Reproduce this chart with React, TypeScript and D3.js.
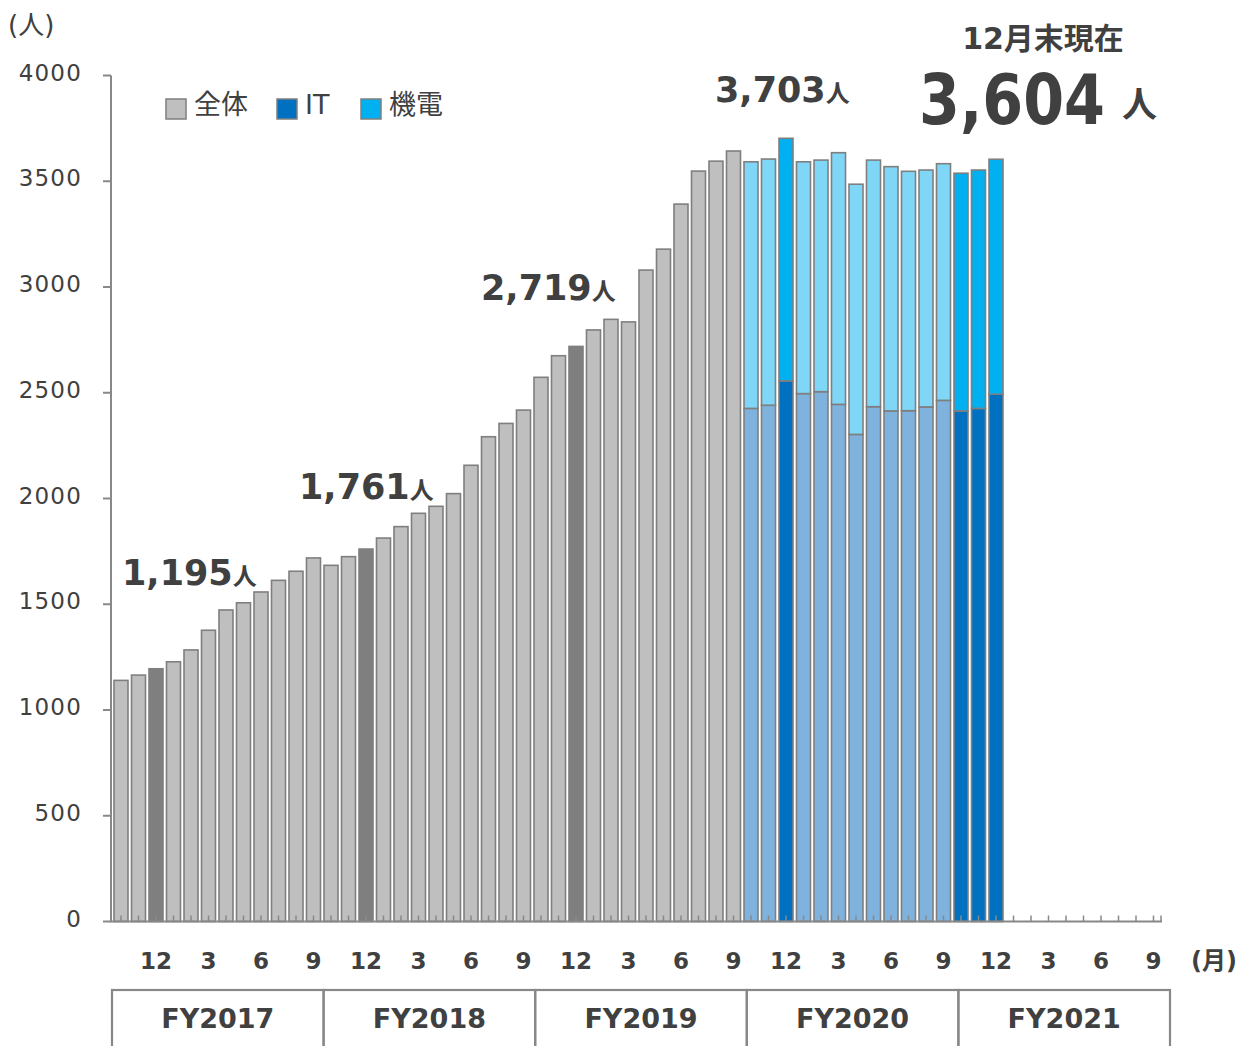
import React from "react";
import * as d3 from "d3";

// ---------- data ----------
const fiscalYears = ["FY2017", "FY2018", "FY2019", "FY2020", "FY2021"];
const monthsInFY = [10, 11, 12, 1, 2, 3, 4, 5, 6, 7, 8, 9];
const labeledMonths = [12, 3, 6, 9];
const yTicks = [0, 500, 1000, 1500, 2000, 2500, 3000, 3500, 4000];

// 全体 (total headcount) Oct 2016 .. Sep 2019
const totalValues = [
  1140, 1165, 1195, 1228, 1284, 1377, 1473, 1507, 1558, 1613, 1656, 1719,
  1684, 1725, 1761, 1813, 1867, 1930, 1963, 2023, 2157, 2292, 2355, 2418,
  2573, 2675, 2719, 2797, 2847, 2835, 3080, 3179, 3392, 3548, 3595, 3643,
];
// IT / 機電 split, Oct 2019 .. Dec 2020
const itValues = [2426, 2441, 2556, 2496, 2505, 2445, 2303, 2434, 2414, 2415, 2433, 2464, 2414, 2426, 2493];
const kidenValues = [1166, 1164, 1147, 1096, 1095, 1190, 1183, 1166, 1155, 1132, 1120, 1119, 1124, 1127, 1111];
// highlighted months (slot index)
const highlightSlots = [2, 14, 26, 38, 48, 49, 50];

const legendItems = [
  { label: "全体", color: "#BFBFBF" },
  { label: "IT", color: "#0070C0" },
  { label: "機電", color: "#00B0F0" },
];

// ---------- styles ----------
const W = 1241;
const H = 1046;
const FONT = "'DejaVu Sans', 'Noto Sans CJK JP', sans-serif";
const TEXT = "#404040";
const AXIS = "#888888";
const BAR_STROKE = "#7F7F7F";
const C = {
  gray: "#BFBFBF",
  grayDark: "#7F7F7F",
  itLight: "#7FB3DD",
  itDark: "#0070C0",
  kLight: "#80D6F7",
  kDark: "#00B0F0",
};

export default function App() {
  const slots = d3.range(fiscalYears.length * 12);
  const x = d3
    .scaleBand<number>()
    .domain(slots)
    .range([112.25, 1162.25])
    .paddingInner(0.2)
    .paddingOuter(0.1);
  const cx = (i: number) => (x(i) as number) + x.bandwidth() / 2;
  const y = d3.scaleLinear().domain([0, 4000]).range([921.5, 75.5]);
  const fy = d3.scaleBand<string>().domain(fiscalYears).range([112, 1170]);

  const grayBars = totalValues.map((v, i) => ({ i, v }));
  const stackStart = totalValues.length;
  const stackRows = itValues.map((it, k) => ({ i: stackStart + k, it, kiden: kidenValues[k] }));
  const stack = d3.stack<any>().keys(["it", "kiden"])(stackRows);

  const monthLabelSlots = slots.filter((s) => labeledMonths.includes(monthsInFY[s % 12]));

  const hl = (i: number) => highlightSlots.includes(i);

  return (
    <svg
      width={W}
      height={H}
      style={{ position: "absolute", left: 0, top: 0, background: "#fff", fontFamily: FONT }}
    >
      <rect width={W} height={H} fill="#fff" />
      {/* unit */}
      <text x={8} y={34} fontSize={26} fill={TEXT}>(人)</text>

      {/* y axis */}
      <line x1={111} x2={111} y1={y(4000)} y2={y(0)} stroke={AXIS} strokeWidth={2} />
      {yTicks.map((t) => (
        <g key={t}>
          <line x1={103} x2={111} y1={y(t)} y2={y(t)} stroke={AXIS} strokeWidth={2} />
          <text
            x={82}
            y={y(t) - 3}
            textAnchor="end"
            dominantBaseline="central"
            fontSize={23}
            letterSpacing={1.2}
            fill={TEXT}
          >
            {t}
          </text>
        </g>
      ))}

      {/* gray bars */}
      {grayBars.map((d) => (
        <rect
          key={d.i}
          x={x(d.i)}
          y={y(d.v)}
          width={x.bandwidth()}
          height={y(0) - y(d.v)}
          fill={hl(d.i) ? C.grayDark : C.gray}
          stroke={BAR_STROKE}
          strokeWidth={1.6}
        />
      ))}

      {/* stacked bars */}
      {stack.map((layer) =>
        layer.map((seg: any) => {
          const i = seg.data.i;
          const isIT = layer.key === "it";
          const fill = isIT ? (hl(i) ? C.itDark : C.itLight) : hl(i) ? C.kDark : C.kLight;
          return (
            <rect
              key={layer.key + i}
              x={x(i)}
              y={y(seg[1])}
              width={x.bandwidth()}
              height={y(seg[0]) - y(seg[1])}
              fill={fill}
              stroke={BAR_STROKE}
              strokeWidth={1.6}
            />
          );
        })
      )}

      {/* x axis */}
      <line x1={110} x2={1162} y1={y(0)} y2={y(0)} stroke={AXIS} strokeWidth={2} />
      {slots.map((s) => (
        <line key={s} x1={cx(s)} x2={cx(s)} y1={y(0)} y2={y(0) - 6} stroke={AXIS} strokeWidth={1.5} />
      ))}
      <line x1={1161} x2={1161} y1={y(0)} y2={y(0) - 6} stroke={AXIS} strokeWidth={1.5} />

      {monthLabelSlots.map((s) => (
        <text
          key={s}
          x={cx(s)}
          y={961}
          textAnchor="middle"
          dominantBaseline="central"
          fontSize={23}
          fontWeight="bold"
          fill={TEXT}
        >
          {monthsInFY[s % 12]}
        </text>
      ))}
      <text x={1214} y={961} textAnchor="middle" dominantBaseline="central" fontSize={24} fontWeight="bold" fill={TEXT}>
        (月)
      </text>

      {/* fiscal year boxes */}
      {fiscalYears.map((f) => (
        <g key={f}>
          <rect
            x={fy(f)}
            y={990}
            width={fy.bandwidth()}
            height={80}
            fill="none"
            stroke={AXIS}
            strokeWidth={2.2}
          />
          <text
            x={(fy(f) as number) + fy.bandwidth() / 2}
            y={1018}
            textAnchor="middle"
            dominantBaseline="central"
            fontSize={27}
            fontWeight="bold"
            fill={TEXT}
          >
            {f}
          </text>
        </g>
      ))}

      {/* legend */}
      {legendItems.map((it, k) => {
        const lx = [166, 277, 361][k];
        return (
          <g key={it.label}>
            <rect x={lx} y={99} width={20} height={20} fill={it.color} stroke={BAR_STROKE} strokeWidth={1.5} />
            <text x={lx + 28} y={114} fontSize={27} fill={TEXT}>
              {it.label}
            </text>
          </g>
        );
      })}

      {/* annotations */}
      <text x={122} y={585} fontSize={35} fontWeight="bold" fill={TEXT}>
        1,195<tspan fontSize={24}>人</tspan>
      </text>
      <text x={299} y={499} fontSize={35} fontWeight="bold" fill={TEXT}>
        1,761<tspan fontSize={24}>人</tspan>
      </text>
      <text x={481} y={300} fontSize={35} fontWeight="bold" fill={TEXT}>
        2,719<tspan fontSize={24}>人</tspan>
      </text>
      <text x={715} y={102} fontSize={35} fontWeight="bold" fill={TEXT}>
        3,703<tspan fontSize={24}>人</tspan>
      </text>
      <text x={1043} y={49} textAnchor="middle" fontSize={30} fontWeight="bold" fill={TEXT}>
        12月末現在
      </text>
      <text
        transform="translate(919,124) scale(0.84,1)"
        fontSize={70}
        fontWeight="bold"
        fill={TEXT}
      >
        3,604
      </text>
      <text x={1122} y={117} fontSize={35} fontWeight="bold" fill={TEXT}>
        人
      </text>
    </svg>
  );
}
